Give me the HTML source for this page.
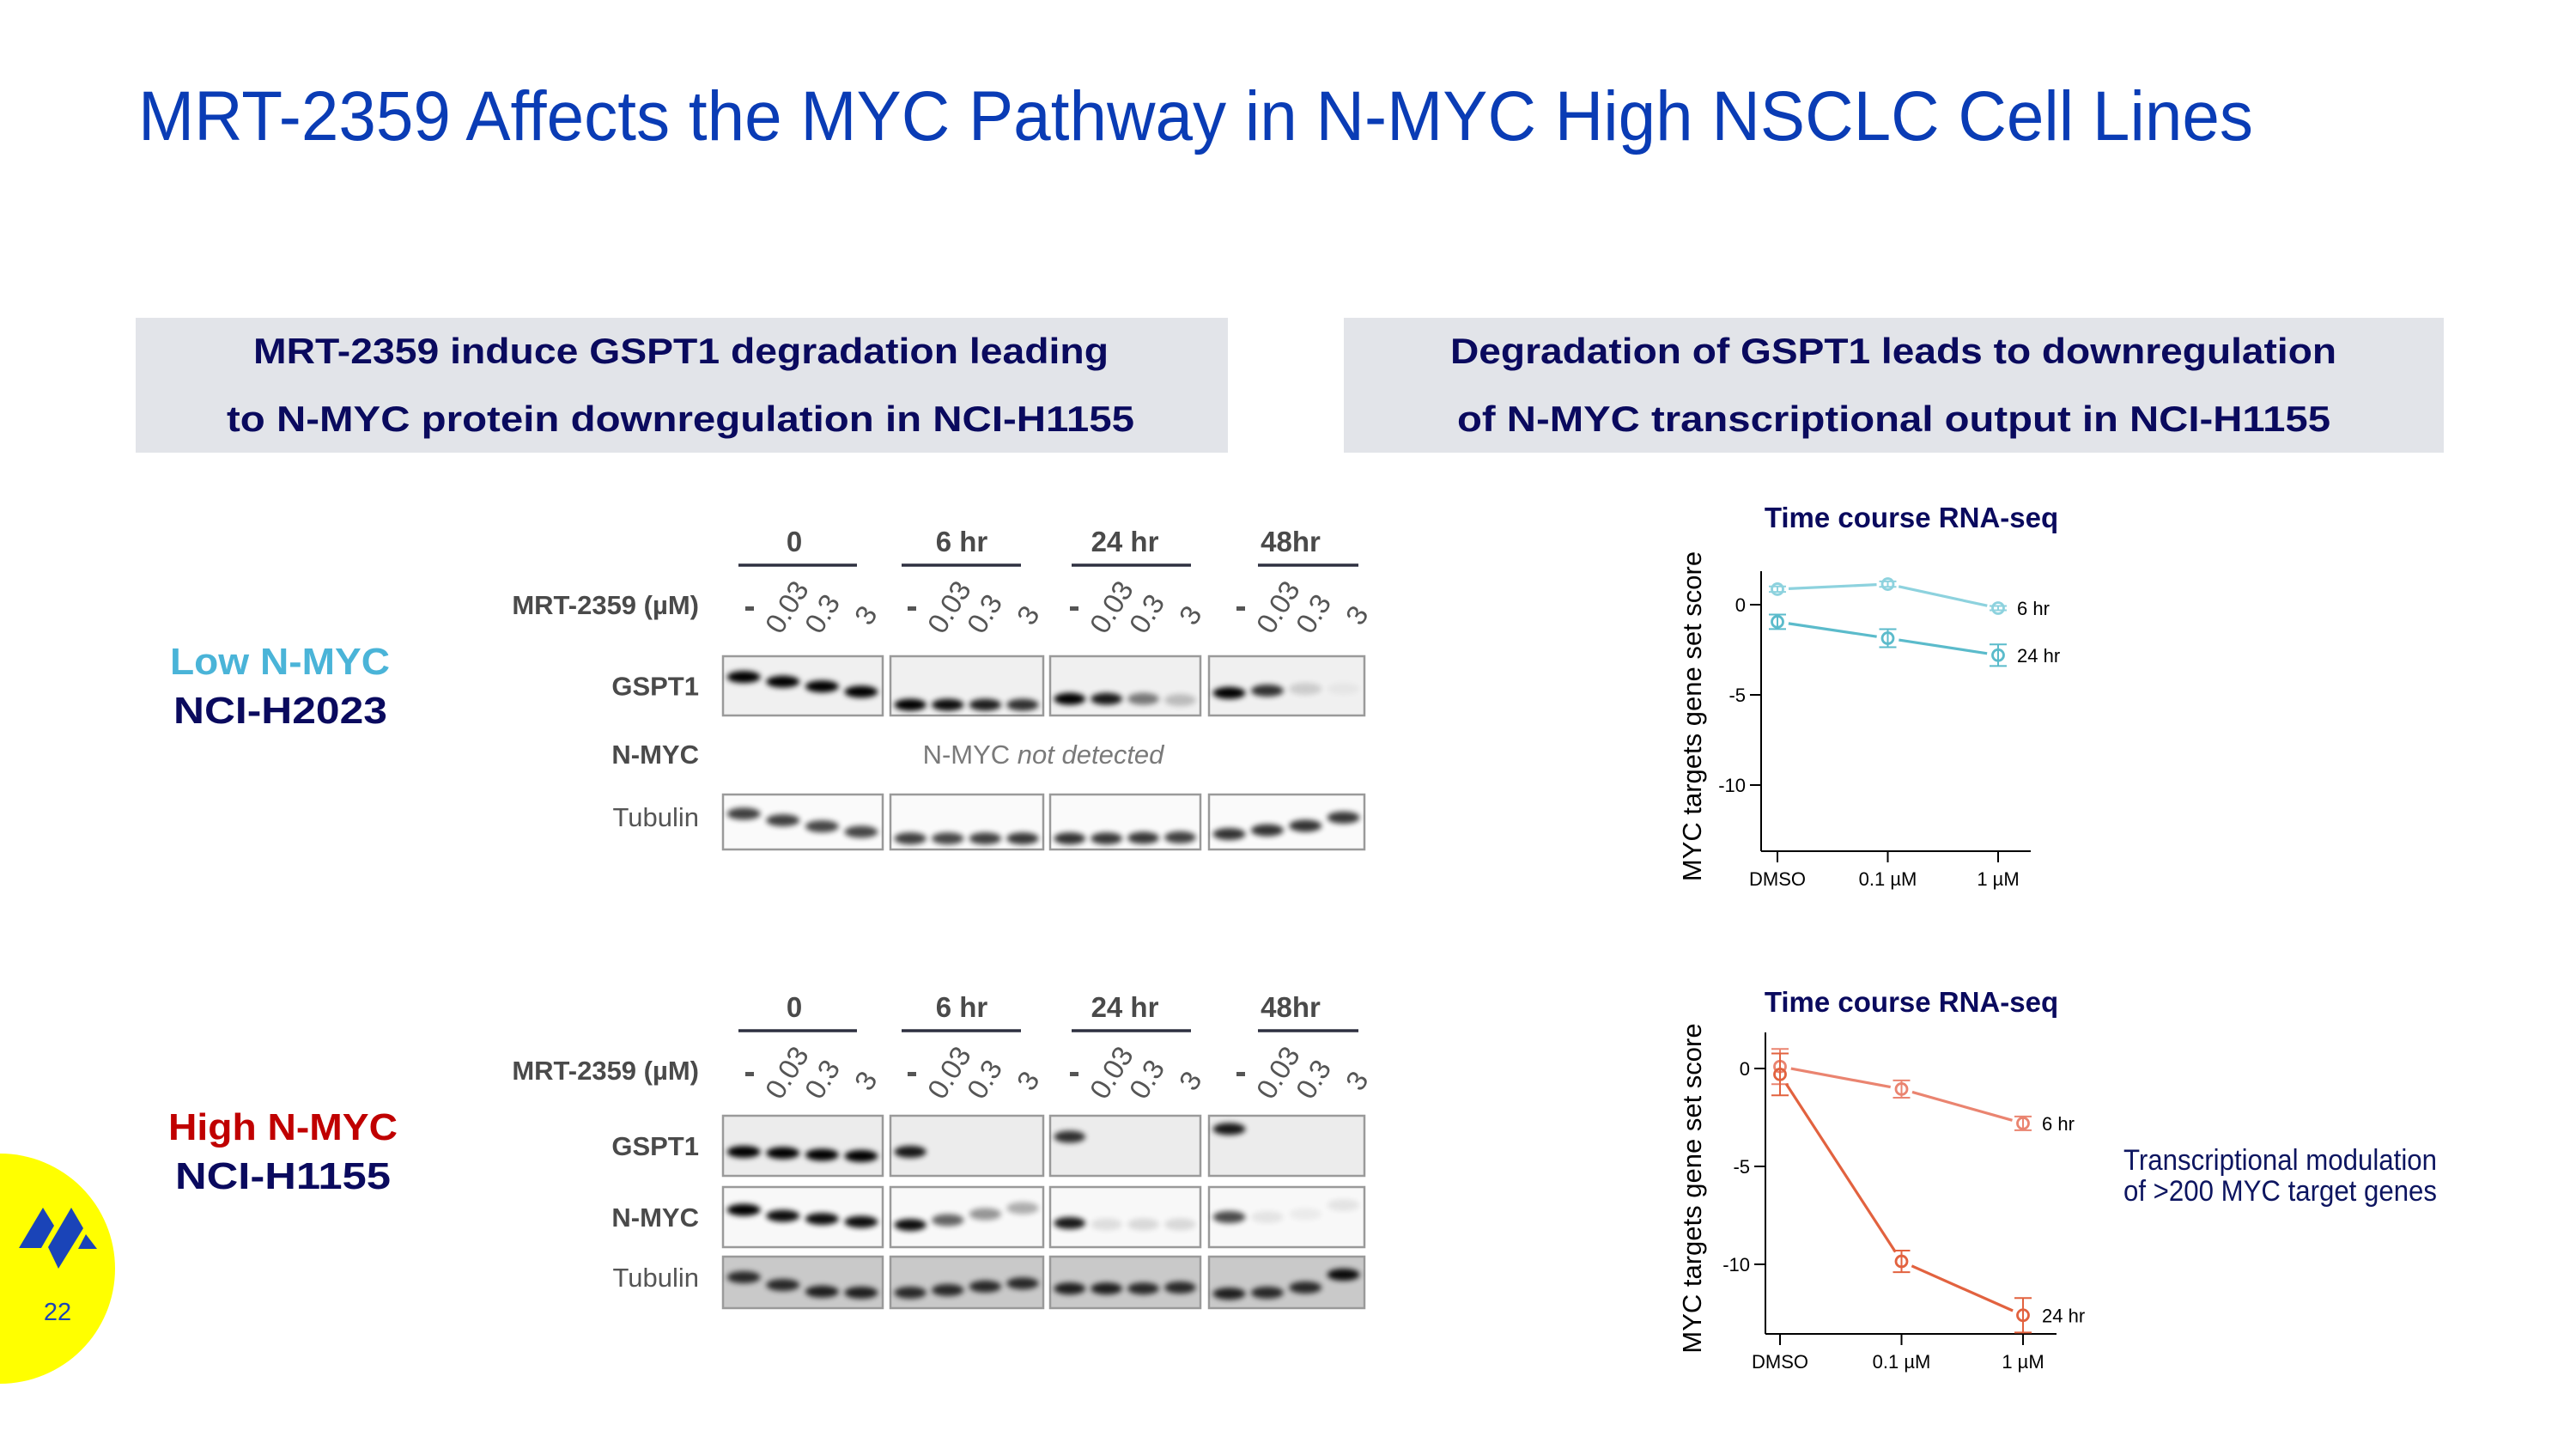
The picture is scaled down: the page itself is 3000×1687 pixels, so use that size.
<!DOCTYPE html>
<html><head><meta charset="utf-8"><style>
html,body{margin:0;padding:0;background:#fff;}
svg{display:block;}
text{font-family:"Liberation Sans","DejaVu Sans",sans-serif;}
</style></head><body>
<svg id="slide" width="3000" height="1687" viewBox="0 0 3000 1687" xmlns="http://www.w3.org/2000/svg">
<defs>
<filter id="blur" x="-50%" y="-100%" width="200%" height="300%"><feGaussianBlur stdDeviation="3.2"/></filter>
</defs>
<text x="161" y="163" font-size="82" fill="#0a3cb5" textLength="2463" lengthAdjust="spacingAndGlyphs">MRT-2359 Affects the MYC Pathway in N-MYC High NSCLC Cell Lines</text>

<g>
<rect x="158" y="370" width="1272" height="157" fill="#e2e4e9"/>
<text x="295" y="423" font-size="42" font-weight="bold" fill="#0a0a5e" textLength="996" lengthAdjust="spacingAndGlyphs">MRT-2359 induce GSPT1 degradation leading</text>
<text x="264" y="502" font-size="42" font-weight="bold" fill="#0a0a5e" textLength="1057" lengthAdjust="spacingAndGlyphs">to N-MYC protein downregulation in NCI-H1155</text>
</g>
<g>
<rect x="1565" y="370" width="1281" height="157" fill="#e2e4e9"/>
<text x="1689" y="423" font-size="42" font-weight="bold" fill="#0a0a5e" textLength="1032" lengthAdjust="spacingAndGlyphs">Degradation of GSPT1 leads to downregulation</text>
<text x="1697" y="502" font-size="42" font-weight="bold" fill="#0a0a5e" textLength="1017" lengthAdjust="spacingAndGlyphs">of N-MYC transcriptional output in NCI-H1155</text>
</g>

<g font-family="'DejaVu Sans',sans-serif" font-weight="bold" font-size="44">
<text x="198" y="785" fill="#4ab4d8" textLength="256" lengthAdjust="spacingAndGlyphs">Low N-MYC</text>
<text x="202" y="842" fill="#0a0a5e" textLength="249" lengthAdjust="spacingAndGlyphs">NCI-H2023</text>
<text x="196" y="1327" fill="#c00000" textLength="267" lengthAdjust="spacingAndGlyphs">High N-MYC</text>
<text x="204" y="1384" fill="#0a0a5e" textLength="251" lengthAdjust="spacingAndGlyphs">NCI-H1155</text>
</g>

<g>
<circle cx="0" cy="1477" r="134" fill="#ffff00"/>
<polygon points="22,1453 50,1406 63,1427 48,1453" fill="#1a44b8"/>
<polygon points="56,1452 83,1406 97,1430 68,1477" fill="#1a44b8"/>
<polygon points="91,1454 100,1437 113,1454" fill="#1a44b8"/>
<text x="67" y="1537" font-size="29" text-anchor="middle" fill="#1a44b8">22</text>
</g>

<g id="blots"></g>
<g id="charts"></g>

<g font-size="34" fill="#0d1560">
<text x="2473" y="1362" textLength="365" lengthAdjust="spacingAndGlyphs">Transcriptional modulation</text>
<text x="2473" y="1398" textLength="365" lengthAdjust="spacingAndGlyphs">of &gt;200 MYC target genes</text>
</g>
</svg>
<script>
// ---------- chart data ----------
const doseCategories = ["DMSO", "0.1 \u00b5M", "1 \u00b5M"];
const yTicks = [0, -5, -10];
const lowSeriesNames = ["6 hr", "24 hr"];
const low6hr = [0.86, 1.14, -0.19];
const low6hrErr = [0.15, 0.15, 0.12];
const low24hr = [-0.95, -1.86, -2.8];
const low24hrErr = [0.4, 0.5, 0.6];
const high6hr = [0.1, -1.05, -2.8];
const high6hrErr = [0.9, 0.44, 0.35];
const high24hr = [-0.3, -9.85, -12.6];
const high24hrErr = [1.07, 0.55, 0.88];

// ---------- blot band intensities (0..1) ----------
const timeLabels = ["0", "6 hr", "24 hr", "48hr"];
const doseLabels = ["-", "0.03", "0.3", "3"];
const lowGspt1 = [[1,1,1,1],[1,0.95,0.88,0.8],[1,0.9,0.5,0.22],[1,0.8,0.15,0.04]];
const lowTubulin = [[0.75,0.75,0.72,0.72],[0.75,0.72,0.75,0.78],[0.8,0.78,0.78,0.75],[0.8,0.8,0.8,0.78]];
const highGspt1 = [[1,1,1,1],[0.9,0,0,0],[0.8,0,0,0],[0.9,0,0,0]];
const highNmyc = [[1,0.95,0.95,0.95],[0.95,0.6,0.4,0.3],[0.9,0.1,0.12,0.12],[0.7,0.08,0.05,0.08]];
const highTubulin = [[0.8,0.8,0.85,0.85],[0.8,0.8,0.8,0.8],[0.85,0.85,0.8,0.8],[0.85,0.8,0.8,0.95]];

const NS = "http://www.w3.org/2000/svg";
function mk(parent, tag, attrs, txt) {
  const e = document.createElementNS(NS, tag);
  for (const k in attrs) e.setAttribute(k, attrs[k]);
  if (txt !== undefined) e.textContent = txt;
  parent.appendChild(e);
  return e;
}

// ---------- blots ----------
const blotG = document.getElementById('blots');
const boxX = [[842,1028],[1037,1215],[1223,1398],[1408,1589]];
const groupDash = [873, 1062, 1251, 1445];
const underline = [[860,998],[1050,1189],[1248,1387],[1465,1582]];
const posLowG = [[0.35,0.43,0.51,0.6],[0.82,0.82,0.82,0.82],[0.72,0.72,0.72,0.74],[0.62,0.58,0.55,0.55]];
const posLowT = [[0.35,0.47,0.58,0.68],[0.8,0.8,0.8,0.8],[0.8,0.8,0.79,0.78],[0.72,0.65,0.57,0.42]];
const posHighG = [[0.6,0.62,0.65,0.67],[0.6,0.6,0.6,0.6],[0.35,0.35,0.35,0.35],[0.22,0.22,0.22,0.22]];
const posHighN = [[0.38,0.48,0.53,0.58],[0.63,0.55,0.45,0.35],[0.6,0.62,0.62,0.62],[0.5,0.5,0.45,0.3]];
const posHighT = [[0.4,0.55,0.68,0.7],[0.7,0.65,0.58,0.52],[0.62,0.62,0.62,0.6],[0.72,0.7,0.6,0.35]];
const headerCenters = [925, 1120, 1310, 1503];

function headers(top, name) {
  const g = mk(blotG, 'g', {});
  
  
  timeLabels.forEach((t, i) => {
    const cx = headerCenters[i];
    mk(g, 'text', {x: cx, y: top + 20, 'font-size': 33, 'font-weight': 'bold', fill: '#4a4a4a', 'text-anchor': 'middle', 'font-family': "'DejaVu Sans Condensed','DejaVu Sans',sans-serif"}, t);
    mk(g, 'line', {x1: underline[i][0], x2: underline[i][1], y1: top + 36, y2: top + 36, stroke: '#2e3040', 'stroke-width': 3.5});
    const dx = groupDash[i];
    const ty = top + 90;
    doseLabels.forEach((d, j) => {
      if (j === 0) { mk(g, 'rect', {x: dx - 5, y: ty - 6, width: 10, height: 5, fill: '#555'}); return; }
      const ox = [0, 36, 82, 140][j], oy = [0, 28, 28, 18][j];
      mk(g, 'text', {x: dx + ox, y: ty + oy, 'font-size': 33, fill: '#555', transform: `rotate(-58 ${dx + ox} ${ty + oy})`}, d);
    });
  });
  mk(g, 'text', {x: 814, y: top + 93, 'font-size': 31, 'font-weight': 'bold', fill: '#4a4a4a', 'text-anchor': 'end', 'font-family': "'DejaVu Sans Condensed','DejaVu Sans',sans-serif"}, 'MRT-2359 (\u00b5M)');
}

function blotRow(y0, y1, label, bold, vals, pos, bg, name) {
  const g = mk(blotG, 'g', {});
  
  
  mk(g, 'text', {x: 814, y: (y0 + y1) / 2 + 11 - (bold ? 0 : 6), 'font-size': 31, 'font-weight': bold ? 'bold' : 'normal', fill: bold ? '#4a4a4a' : '#555', 'text-anchor': 'end', 'font-family': "'DejaVu Sans Condensed','DejaVu Sans',sans-serif"}, label);
  boxX.forEach((bx, i) => {
    mk(g, 'rect', {x: bx[0], y: y0, width: bx[1] - bx[0], height: y1 - y0, fill: bg, stroke: '#9a9a9a', 'stroke-width': 2.5});
    const w = bx[1] - bx[0], h = y1 - y0;
    vals[i].forEach((v, j) => {
      if (v <= 0) return;
      const band = mk(g, 'ellipse', {cx: bx[0] + w * (0.13 + 0.245 * j), cy: y0 + h * pos[i][j], rx: w * 0.105, ry: 7, fill: '#000', opacity: v, filter: 'url(#blur)'});
      
      
    });
  });
}

headers(622, 'low-blot-headers');
blotRow(764, 833, 'GSPT1', true, lowGspt1, posLowG, '#f0f0f0', 'low-gspt1-blot');
mk(blotG, 'text', {x: 814, y: 889, 'font-size': 31, 'font-weight': 'bold', fill: '#4a4a4a', 'text-anchor': 'end', 'font-family': "'DejaVu Sans Condensed','DejaVu Sans',sans-serif"}, 'N-MYC');
const nd = mk(blotG, 'text', {x: 1215, y: 889, 'font-size': 31, fill: '#7a7a7a', 'text-anchor': 'middle', 'font-family': "'DejaVu Sans Condensed','DejaVu Sans',sans-serif"});


nd.innerHTML = 'N-MYC <tspan font-style="italic">not detected</tspan>';
blotRow(925, 989, 'Tubulin', false, lowTubulin, posLowT, '#fafafa', 'low-tubulin-blot');

headers(1164, 'high-blot-headers');
blotRow(1299, 1369, 'GSPT1', true, highGspt1, posHighG, '#ececec', 'high-gspt1-blot');
blotRow(1382, 1452, 'N-MYC', true, highNmyc, posHighN, '#f8f8f8', 'high-nmyc-blot');
blotRow(1463, 1523, 'Tubulin', false, highTubulin, posHighT, '#c9c9c9', 'high-tubulin-blot');

// ---------- line charts ----------
const chartsG = document.getElementById('charts');
function lineChart(cfg) {
  const g = mk(chartsG, 'g', {});
  
  
  const xOf = i => cfg.x0 + i * cfg.step;
  const yOf = v => cfg.yZero - v * cfg.ppu;
  const t = mk(g, 'text', {x: cfg.titleX, y: cfg.titleY, 'font-size': 33, 'font-weight': 'bold', fill: '#0a0a5e', 'text-anchor': 'middle', 'font-family': "'DejaVu Sans Condensed','DejaVu Sans',sans-serif"}, 'Time course RNA-seq');
  
  
  const ya = mk(g, 'line', {x1: cfg.axisX, x2: cfg.axisX, y1: cfg.top, y2: cfg.bottom, stroke: '#000', 'stroke-width': 2});
  
  
  const xa = mk(g, 'line', {x1: cfg.axisX, x2: cfg.xEnd, y1: cfg.bottom, y2: cfg.bottom, stroke: '#000', 'stroke-width': 2});
  
  
  yTicks.forEach(v => {
    mk(g, 'line', {x1: cfg.axisX - 13, x2: cfg.axisX, y1: yOf(v), y2: yOf(v), stroke: '#000', 'stroke-width': 2});
    const l = mk(g, 'text', {x: cfg.axisX - 18, y: yOf(v) + 8, 'font-size': 22, 'text-anchor': 'end', fill: '#000'}, String(v));
    
    
  });
  doseCategories.forEach((c, i) => {
    mk(g, 'line', {x1: xOf(i), x2: xOf(i), y1: cfg.bottom, y2: cfg.bottom + 13, stroke: '#000', 'stroke-width': 2});
    const l = mk(g, 'text', {x: xOf(i), y: cfg.bottom + 40, 'font-size': 22, 'text-anchor': 'middle', fill: '#000'}, c);
    
    
  });
  const cy = (cfg.top + cfg.bottom) / 2 + 6;
  const yt = mk(g, 'text', {x: cfg.titleAxisX, y: cy, 'font-size': 31, 'text-anchor': 'middle', fill: '#000', transform: `rotate(-90 ${cfg.titleAxisX} ${cy})`}, 'MYC targets gene set score');
  
  
  cfg.series.forEach((s, si) => {
    const sg = mk(g, 'g', {});
    
    
    for (let i = 0; i < s.vals.length - 1; i++) {
      const xa1 = xOf(i), ya1 = yOf(s.vals[i]), xb = xOf(i + 1), yb = yOf(s.vals[i + 1]);
      const dx = xb - xa1, dy = yb - ya1, d = Math.hypot(dx, dy), g1 = 13 / d;
      const ln = mk(sg, 'line', {x1: xa1 + dx * g1, y1: ya1 + dy * g1, x2: xb - dx * g1, y2: yb - dy * g1, stroke: s.color, 'stroke-width': 3.2});
      
      
    }
    s.vals.forEach((v, i) => {
      const x = xOf(i), y = yOf(v), e = s.err[i] * cfg.ppu;
      mk(sg, 'line', {x1: x, x2: x, y1: y - e, y2: y + e, stroke: s.color, 'stroke-width': 2});
      mk(sg, 'line', {x1: x - 10, x2: x + 10, y1: y - e, y2: y - e, stroke: s.color, 'stroke-width': 2});
      mk(sg, 'line', {x1: x - 10, x2: x + 10, y1: y + e, y2: y + e, stroke: s.color, 'stroke-width': 2});
      const p = mk(sg, 'circle', {cx: x, cy: y, r: 6.5, fill: 'none', stroke: s.color, 'stroke-width': 2.8});
      
      
    });
    const n = s.vals.length - 1;
    const lbl = mk(sg, 'text', {x: xOf(n) + 22, y: yOf(s.vals[n]) + 8, 'font-size': 22, fill: '#000'}, s.label);
    
    
  });
}

lineChart({name: 'low-nmyc-chart', axisX: 2051, top: 665, bottom: 991, xEnd: 2365, x0: 2070, step: 128.5,
  yZero: 704, ppu: 21, titleX: 2226, titleY: 614, titleAxisX: 1981,
  series: [{label: lowSeriesNames[0], vals: low6hr, err: low6hrErr, color: '#8dd2de'},
           {label: lowSeriesNames[1], vals: low24hr, err: low24hrErr, color: '#5bbbcb'}]});
lineChart({name: 'high-nmyc-chart', axisX: 2056, top: 1202, bottom: 1553, xEnd: 2395, x0: 2073, step: 141.5,
  yZero: 1244, ppu: 22.8, titleX: 2226, titleY: 1178, titleAxisX: 1981,
  series: [{label: lowSeriesNames[0], vals: high6hr, err: high6hrErr, color: '#ea8470'},
           {label: lowSeriesNames[1], vals: high24hr, err: high24hrErr, color: '#e2623f'}]});
</script>
</body></html>
